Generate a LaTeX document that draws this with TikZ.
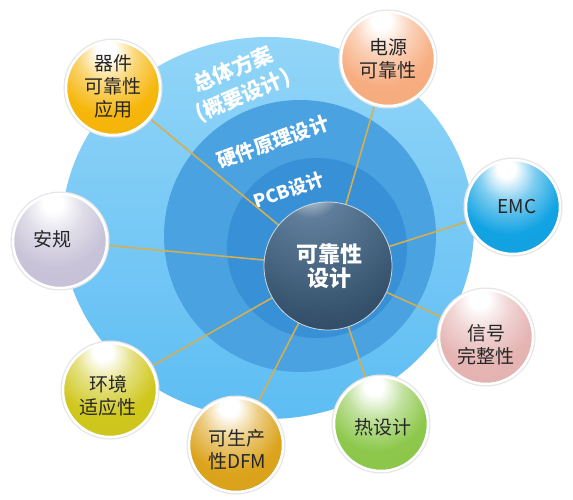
\documentclass[tikz,border=0pt]{standalone}
\usepackage{fontspec}
\setmainfont{Noto Sans CJK SC}
\definecolor{outerA}{HTML}{92D5F8}
\definecolor{outerB}{HTML}{5DBDF3}
\definecolor{midc}{HTML}{4AA2E0}
\definecolor{innc}{HTML}{3890D6}
\definecolor{linec}{HTML}{D6AE52}
\definecolor{cQJ}{HTML}{F6B60A}
\definecolor{cDY}{HTML}{F7AD80}
\definecolor{cEMC}{HTML}{12A3E3}
\definecolor{cAG}{HTML}{C8C3D8}
\definecolor{cXH}{HTML}{E5B4B3}
\definecolor{cHJ}{HTML}{CFC71C}
\definecolor{cDFM}{HTML}{DCA31C}
\definecolor{cRSJ}{HTML}{8DC84C}
\definecolor{coreA}{HTML}{5F7E9B}
\definecolor{coreB}{HTML}{34506B}
\definecolor{coreC}{HTML}{22364B}
\colorlet{bubcol}{white}
\pgfdeclareradialshading[bubcol]{bubshade}{\pgfpoint{-4bp}{22bp}}{color(0bp)=(white); color(5bp)=(white); color(15bp)=(bubcol!55!white); color(28bp)=(bubcol); color(55bp)=(bubcol!97!black); color(72bp)=(bubcol!80!white)}
\pgfdeclareradialshading{coreshade}{\pgfpoint{-8bp}{36bp}}{color(0bp)=(white); color(4bp)=(white!80!coreA); color(12bp)=(coreA); color(40bp)=(coreB); color(72bp)=(coreC); color(84bp)=(coreA)}
\tikzset{
  bubble/.style={circle, minimum size=94pt, inner sep=0pt,
    /utils/exec={\colorlet{bubcol}{#1}}, shade, shading=bubshade,
    draw=white, line width=2.5pt,
    preaction={draw=black!10, line width=5pt}},
  btext/.style={align=center, font=\fontsize{19}{23}\selectfont, text=black!85},
  ringtext/.style={font=\bfseries\fontsize{#1}{#1}\selectfont, text=white},
  conn/.style={draw=linec, line width=1.6pt},
}
\begin{document}
\begin{tikzpicture}[x=1pt,y=-1pt]
\useasboundingbox (0,0) rectangle (573,500);
\fill[white] (0,0) rectangle (573,500);
% nested discs
\shade[top color=outerA, bottom color=outerB] (268,228) ellipse [x radius=206pt, y radius=191pt];
\fill[midc] (300,236) circle [radius=136pt];
\fill[innc] (317,248) circle [radius=90pt];
% ring labels
\node[ringtext=21, rotate=23] (t1) at (233,69) {总体方案};
\node[ringtext=21, rotate=23] (t2) at (243,96) {(概要设计)};
\node[ringtext=19.5, rotate=20] (t3) at (273,142) {硬件原理设计};
\node[ringtext=18, rotate=19] (t4) at (289,190) {PCB设计};
% core and bubbles (coordinates for connectors)
\node[circle, minimum size=128pt, inner sep=0pt] (core) at (328,266) {};
\node[circle, minimum size=94pt, inner sep=0pt] (qj) at (113,88) {};
\node[circle, minimum size=94pt, inner sep=0pt] (dy) at (388,59) {};
\node[circle, minimum size=94pt, inner sep=0pt] (emc) at (513,207) {};
\node[circle, minimum size=94pt, inner sep=0pt] (ag) at (60,241) {};
\node[circle, minimum size=94pt, inner sep=0pt] (xh) at (486,337) {};
\node[circle, minimum size=94pt, inner sep=0pt] (hj) at (110,390) {};
\node[circle, minimum size=94pt, inner sep=0pt] (dfm) at (236,445) {};
\node[circle, minimum size=94pt, inner sep=0pt] (rsj) at (381,424) {};
% connectors
\foreach \n in {qj,dy,emc,ag,xh,hj,dfm,rsj} \draw[conn] (\n) -- (core);
% core sphere
\node[circle, minimum size=128pt, inner sep=0pt, shade, shading=coreshade,
  draw=white!70!coreA, line width=0.8pt] (coreball) at (core) {};
\node[align=center, text=white, font=\bfseries\fontsize{22}{24}\selectfont] (coretext) at (329,266) {可靠性\\设计};
% bubbles
\node[bubble=cQJ] (qjb) at (qj) {};
\node[bubble=cDY] (dyb) at (dy) {};
\node[bubble=cEMC] (emcb) at (emc) {};
\node[bubble=cAG] (agb) at (ag) {};
\node[bubble=cXH] (xhb) at (xh) {};
\node[bubble=cHJ] (hjb) at (hj) {};
\node[bubble=cDFM] (dfmb) at (dfm) {};
\node[bubble=cRSJ] (rsjb) at (rsj) {};
% bubble texts
\node[btext] (qjt) at (113,86) {器件\\可靠性\\应用};
\node[btext] (dyt) at (388,59) {电源\\可靠性};
\node[btext] (emct) at (517,207) {EMC};
\node[btext] (agt) at (53,239) {安规};
\node[btext] (xht) at (486,345) {信号\\完整性};
\node[btext] (hjt) at (108,396) {环境\\适应性};
\node[btext] (dfmt) at (237,450) {可生产\\性DFM};
\node[btext] (rsjt) at (383,427) {热设计};
\end{tikzpicture}
\end{document}
